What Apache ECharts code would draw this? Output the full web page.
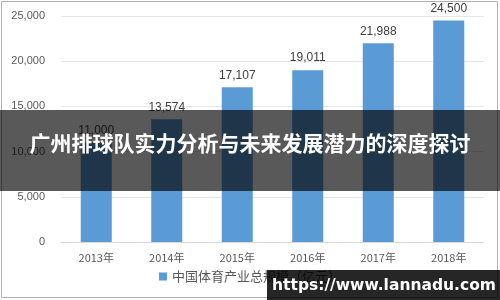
<!DOCTYPE html>
<html><head><meta charset="utf-8">
<script src="https://cdn.jsdelivr.net/npm/echarts@6/dist/echarts.min.js"></script>
<style>html,body{margin:0;padding:0;background:#fff}#c{width:500px;height:300px}</style>
</head><body><div id="c"></div>
<script>
const categories = ['2013年','2014年','2015年','2016年','2017年','2018年'];
const values = [11000, 13574, 17107, 19011, 21988, 24500];
const seriesName = '中国体育产业总规模（亿元）';
const titleText = '广州排球队实力分析与未来发展潜力的深度探讨';
const watermark = 'https://www.lannadu.com';

const chart = echarts.init(document.getElementById('c'), null, {renderer:'canvas'});
chart.setOption({
  animation:false,
  backgroundColor:'#fff',
  grid:{left:61,right:16,top:16,bottom:58},
  legend:{bottom:12,left:'center',itemWidth:8,itemHeight:8,icon:'rect',itemGap:4,
    textStyle:{color:'#595959',fontSize:13,fontFamily:'Noto Sans CJK SC'}},
  xAxis:{type:'category',data:categories,
    axisLine:{lineStyle:{color:'#d9d9d9'}},axisTick:{show:false},
    axisLabel:{color:'#595959',fontSize:11,margin:10,fontFamily:'Noto Sans CJK SC'}},
  yAxis:{type:'value',min:0,max:25000,interval:5000,
    axisLine:{show:false},axisTick:{show:false},
    splitLine:{lineStyle:{color:'#e6e6e6'}},
    axisLabel:{color:'#595959',fontSize:11,margin:16,fontFamily:'Liberation Sans',
      formatter:v=>v.toLocaleString('en-US')}},
  series:[{name:seriesName,type:'bar',data:values,barWidth:'44%',
    itemStyle:{color:'#5b9bd5'},
    label:{show:true,position:'top',color:'#404040',fontSize:12,distance:6,fontFamily:'Liberation Sans',
      formatter:p=>p.value.toLocaleString('en-US')}}],
  graphic:[
    {type:'rect',shape:{x:1.5,y:1.5,width:496,height:296},style:{fill:'none',stroke:'#b0b0b0',lineWidth:1},z:10},
    {type:'rect',shape:{x:0,y:110,width:500,height:81},style:{fill:'rgba(0,0,0,0.65)'},z:20},
    {type:'text',x:250,y:143,style:{text:titleText,fill:'#fff',fontSize:21,fontWeight:'bold',
      fontFamily:'Noto Sans CJK SC',align:'center',verticalAlign:'middle'},z:21},
    {type:'rect',shape:{x:267,y:270,width:233,height:30},style:{fill:'rgba(0,0,0,0.85)'},z:20},
    {type:'text',x:384,y:286,style:{text:watermark,fill:'#fff',fontSize:15.5,fontWeight:'bold',
      fontFamily:'DejaVu Sans',align:'center',verticalAlign:'middle'},z:21}
  ]
});
</script></body></html>
